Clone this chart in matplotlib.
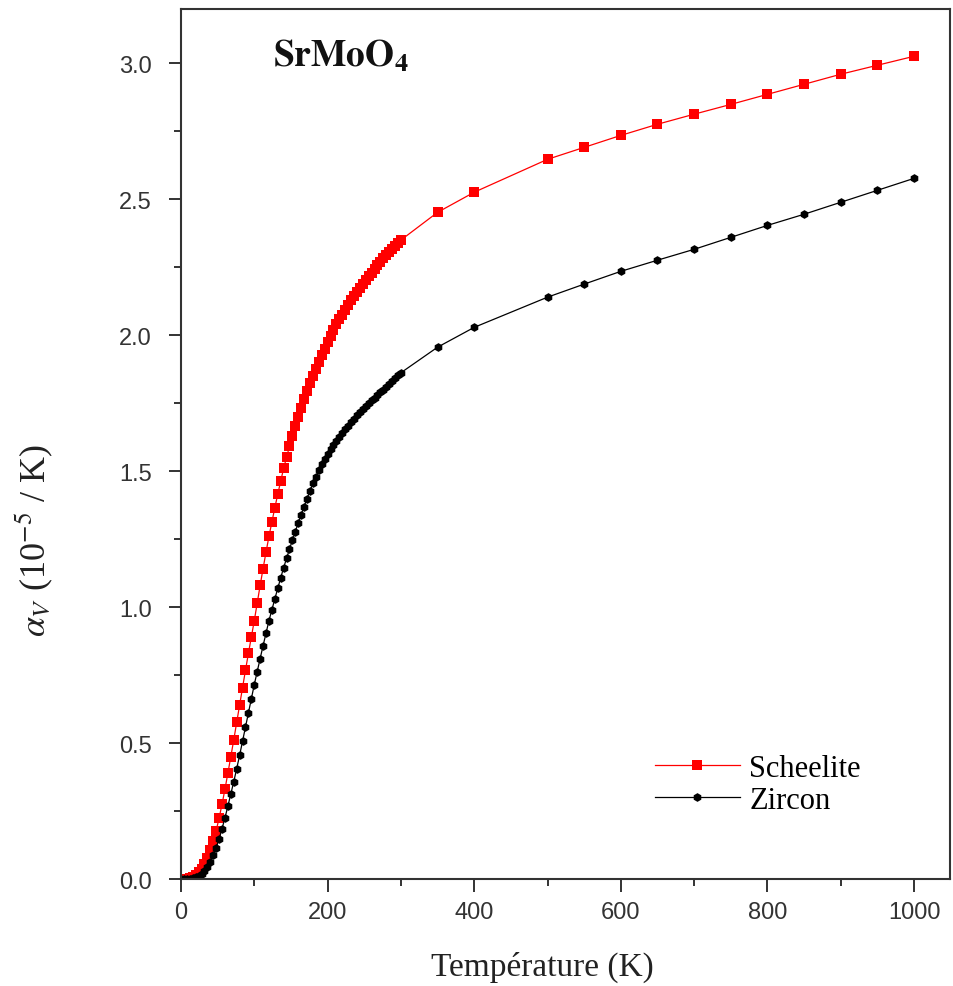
import numpy as np
import matplotlib

matplotlib.use("Agg")
import matplotlib.pyplot as plt
from matplotlib.ticker import MultipleLocator

plt.rcParams["mathtext.fontset"] = "stix"

# temperature grid (K): dense part 0-300 K, then sparse points
T_DENSE = list(range(0, 301, 4))
T_SPARSE = [350, 400, 500, 550, 600, 650, 700, 750, 800, 850, 900, 950, 1000]

# volumetric thermal expansion (10^-5 / K)
SCHEELITE_DENSE = [
    0.000, 0.000, 0.001, 0.003, 0.007, 0.014, 0.024, 0.037, 0.054, 0.077,
    0.105, 0.139, 0.178, 0.224, 0.275, 0.330, 0.390, 0.450, 0.512, 0.576,
    0.640, 0.704, 0.768, 0.830, 0.890, 0.950, 1.015, 1.080, 1.142, 1.202,
    1.260, 1.313, 1.365, 1.415, 1.463, 1.510, 1.551, 1.591, 1.629, 1.665,
    1.700, 1.733, 1.765, 1.795, 1.823, 1.850, 1.877, 1.903, 1.927, 1.951,
    1.975, 1.997, 2.019, 2.040, 2.058, 2.076, 2.094, 2.111, 2.128, 2.144,
    2.160, 2.175, 2.189, 2.203, 2.217, 2.230, 2.244, 2.258, 2.271, 2.283,
    2.295, 2.307, 2.319, 2.330, 2.340, 2.350,
]
SCHEELITE_SPARSE = [2.452, 2.526, 2.647, 2.691, 2.735, 2.776, 2.813,
                    2.849, 2.886, 2.923, 2.960, 2.993, 3.026]

ZIRCON_DENSE = [
    0.000, 0.000, 0.000, 0.001, 0.003, 0.006, 0.012, 0.020, 0.031, 0.046,
    0.064, 0.088, 0.115, 0.147, 0.185, 0.225, 0.268, 0.313, 0.358, 0.406,
    0.455, 0.507, 0.559, 0.611, 0.663, 0.715, 0.763, 0.811, 0.858, 0.904,
    0.950, 0.990, 1.030, 1.069, 1.107, 1.145, 1.179, 1.213, 1.246, 1.278,
    1.310, 1.340, 1.370, 1.399, 1.427, 1.455, 1.479, 1.503, 1.525, 1.545,
    1.565, 1.581, 1.597, 1.612, 1.626, 1.640, 1.654, 1.668, 1.681, 1.693,
    1.705, 1.716, 1.727, 1.738, 1.749, 1.760, 1.770, 1.780, 1.790, 1.800,
    1.810, 1.821, 1.832, 1.842, 1.852, 1.862,
]
ZIRCON_SPARSE = [1.956, 2.029, 2.140, 2.188, 2.235, 2.276, 2.316,
                 2.360, 2.404, 2.445, 2.489, 2.533, 2.577]

t_all = np.array(T_DENSE + T_SPARSE)
scheelite = np.array(SCHEELITE_DENSE + SCHEELITE_SPARSE)
zircon = np.array(ZIRCON_DENSE + ZIRCON_SPARSE)

SERIF = "Liberation Serif"
SANS = "Liberation Sans"

fig = plt.figure(figsize=(9.54, 9.87), dpi=100)
ax = fig.add_axes([0.1897, 0.1084, 0.8061, 0.8815])

ax.plot(t_all, scheelite, color="red", linewidth=0.9, marker="s",
        markersize=6.5, markeredgewidth=0, label="Scheelite")
ax.plot(t_all, zircon, color="black", linewidth=0.9, marker="h",
        markersize=6.3, markeredgewidth=0, label="Zircon")

ax.set_xlim(0, 1049)
ax.set_ylim(0, 3.2)
ax.xaxis.set_major_locator(MultipleLocator(200))
ax.xaxis.set_minor_locator(MultipleLocator(100))
ax.yaxis.set_major_locator(MultipleLocator(0.5))
ax.yaxis.set_minor_locator(MultipleLocator(0.25))
ax.yaxis.set_major_formatter(plt.FuncFormatter(lambda v, p: f"{v:.1f}"))

ax.tick_params(which="major", direction="out", length=9, width=1.4,
               color="#333333", labelsize=17)
ax.tick_params(axis="x", which="major", pad=7)
ax.tick_params(axis="y", which="major", pad=12)
ax.tick_params(which="minor", direction="out", length=5, width=1.4,
               color="#333333")
for lab in ax.get_xticklabels() + ax.get_yticklabels():
    lab.set_fontfamily(SANS)
    lab.set_color("#333333")

for sp in ax.spines.values():
    sp.set_linewidth(1.5)
    sp.set_color("#333333")

ax.set_xlabel("Température (K)", fontsize=24, family=SERIF, color="#222222")
ax.set_ylabel(r"$\alpha_V$ (10$^{-5}$ / K)", fontsize=26, family=SERIF,
              color="#222222")
ax.xaxis.set_label_coords(0.47, -0.082)
ax.yaxis.set_label_coords(-0.163, 0.39)

ax.text(0.12, 0.935, r"$\mathbf{SrMoO_4}$", transform=ax.transAxes,
        fontsize=27, color="#111111")

ax.legend(loc="lower left", bbox_to_anchor=(0.6, 0.06), frameon=False,
          prop={"family": SERIF, "size": 22}, handlelength=2.8,
          handletextpad=0.3, labelspacing=0.1, borderaxespad=0)

fig.savefig("out.png", dpi=100)
